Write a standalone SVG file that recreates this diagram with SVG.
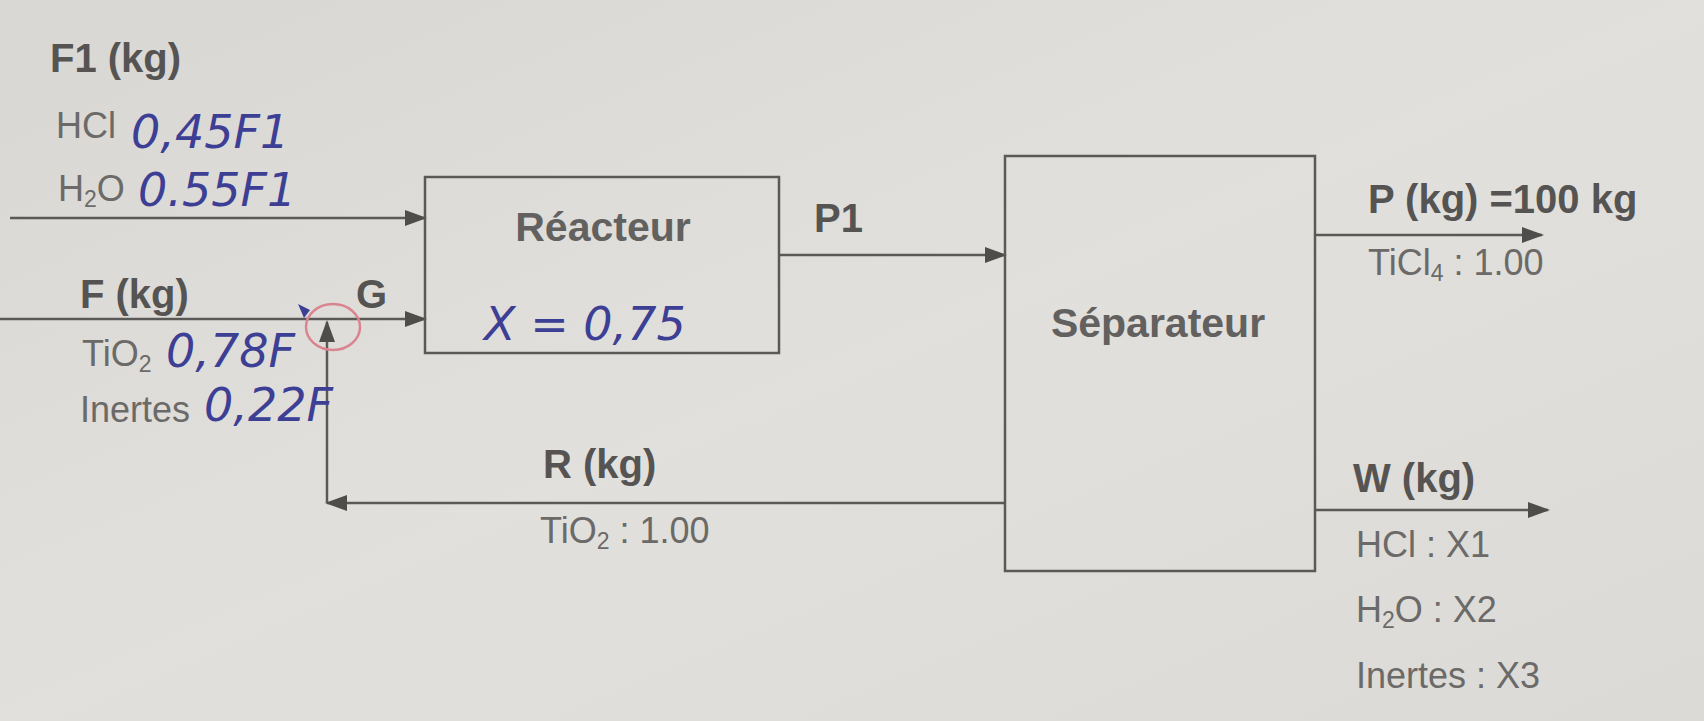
<svg xmlns="http://www.w3.org/2000/svg" width="1704" height="721" viewBox="0 0 1704 721">
<style>
.lbl{font-family:"Liberation Sans",Arial,sans-serif;font-weight:bold;fill:#555453;font-size:40px}
.name{font-family:"Liberation Sans",Arial,sans-serif;font-weight:bold;fill:#62615f;font-size:41px}
.sub{font-family:"Liberation Sans",Arial,sans-serif;fill:#6b6a68;font-size:36px}
.hw{font-family:"DejaVu Sans","Liberation Sans",sans-serif;font-style:italic;fill:#3d3f95;font-size:46px}
.box{fill:none;stroke:#5a5957;stroke-width:2.5}
.ln{fill:none;stroke:#5a5957;stroke-width:2.5}
</style>
<defs>
<linearGradient id="bg" x1="0" y1="0" x2="1" y2="1">
<stop offset="0" stop-color="#d9d7d3"/>
<stop offset="0.5" stop-color="#e2e0dc"/>
<stop offset="1" stop-color="#dcdad6"/>
</linearGradient>
<marker id="ah" markerWidth="22" markerHeight="16" refX="20" refY="8" orient="auto" markerUnits="userSpaceOnUse">
<path d="M0,0 L22,8 L0,16 Z" fill="#4e4d4b"/>
</marker>
</defs>
<rect width="1704" height="721" fill="url(#bg)"/>

<g id="connectors">
<line class="ln" x1="10" y1="218" x2="425" y2="218" marker-end="url(#ah)"/>
<line class="ln" x1="0" y1="319" x2="425" y2="319" marker-end="url(#ah)"/>
<line class="ln" x1="779" y1="255" x2="1005" y2="255" marker-end="url(#ah)"/>
<line class="ln" x1="1315" y1="235" x2="1542" y2="235" marker-end="url(#ah)"/>
<line class="ln" x1="1315" y1="510" x2="1548" y2="510" marker-end="url(#ah)"/>
<polyline class="ln" points="1005,503 327,503" marker-end="url(#ah)"/>
<polyline class="ln" points="327,503 327,322" marker-end="url(#ah)"/>
<ellipse cx="333" cy="327" rx="27" ry="23" fill="none" stroke="#d9848f" stroke-width="2.5"/>
<path d="M298,304 l12,6 l-6,8 z" fill="#3d3f95"/>
</g>

<g id="reactor">
<rect class="box" x="425" y="177" width="354" height="176"/>
<text class="name" x="603" y="241" text-anchor="middle">Réacteur</text>
<text class="hw" x="484" y="340" font-size="60">X = 0,75</text>
</g>

<g id="separator">
<rect class="box" x="1005" y="156" width="310" height="415"/>
<text class="name" x="1158" y="337" text-anchor="middle">Séparateur</text>
</g>

<g id="stream-F1">
<text class="lbl" x="50" y="72">F1 (kg)</text>
<text class="sub" x="56" y="138">HCl</text>
<text class="hw" x="131" y="148">0,45F1</text>
<text class="sub" x="58" y="201">H<tspan font-size="23" dy="6">2</tspan><tspan dy="-6">O</tspan></text>
<text class="hw" x="138" y="206">0.55F1</text>
</g>

<g id="stream-F">
<text class="lbl" x="80" y="308">F (kg)</text>
<text class="sub" x="82" y="366">TiO<tspan font-size="23" dy="6">2</tspan></text>
<text class="hw" x="166" y="367">0,78F</text>
<text class="sub" x="80" y="422">Inertes</text>
<text class="hw" x="204" y="421" font-size="38">0,22F</text>
<text class="lbl" x="356" y="308">G</text>
</g>

<g id="stream-P1">
<text class="lbl" x="814" y="232">P1</text>
</g>

<g id="stream-R">
<text class="lbl" x="543" y="478">R (kg)</text>
<text class="sub" x="540" y="543">TiO<tspan font-size="23" dy="6">2</tspan><tspan dy="-6"> : 1.00</tspan></text>
</g>

<g id="stream-P">
<text class="lbl" x="1368" y="213" font-size="42">P (kg) =100 kg</text>
<text class="sub" x="1368" y="275">TiCl<tspan font-size="23" dy="6">4</tspan><tspan dy="-6"> : 1.00</tspan></text>
</g>

<g id="stream-W">
<text class="lbl" x="1353" y="492">W (kg)</text>
<text class="sub" x="1356" y="557">HCl : X1</text>
<text class="sub" x="1356" y="622">H<tspan font-size="23" dy="6">2</tspan><tspan dy="-6">O : X2</tspan></text>
<text class="sub" x="1356" y="688">Inertes : X3</text>
</g>
</svg>
